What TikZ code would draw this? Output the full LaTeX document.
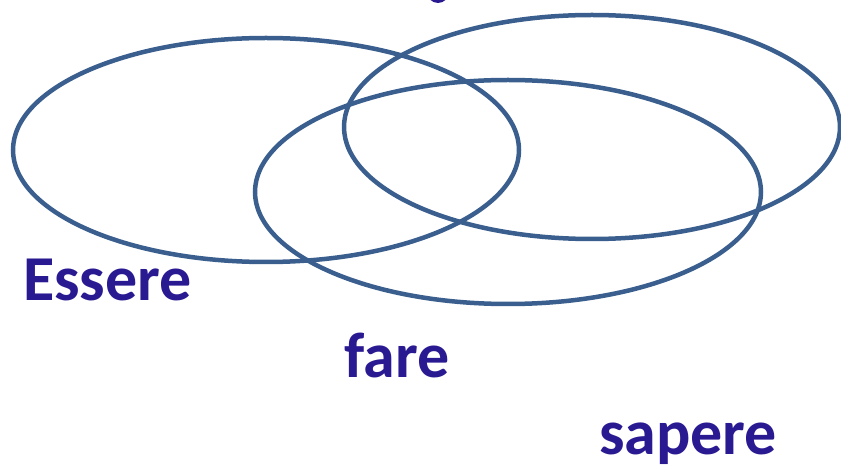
\documentclass[tikz,border=0pt]{standalone}
\usepackage{fontspec}
\setmainfont{Carlito}
\definecolor{ringblue}{HTML}{3A5F8E}
\definecolor{labelblue}{HTML}{2A1A91}
\begin{document}
\begin{tikzpicture}[x=1pt,y=1pt,
  ring/.style={draw=ringblue,line width=4.5pt},
  lbl/.style={text=labelblue,font=\fontsize{64}{64}\selectfont\bfseries,inner sep=0pt,anchor=base west}]
\useasboundingbox (0,0) rectangle (841,464);
\clip (0,0) rectangle (841,464);
\draw[ring] (266,314) ellipse [x radius=253, y radius=112];
\draw[ring] (592,337) ellipse [x radius=248, y radius=112];
\draw[ring] (508,272) ellipse [x radius=253, y radius=112];
\fill[labelblue] (438,472) ellipse [x radius=11, y radius=11];
\node[lbl] (essere) at (23,164) {Essere};
\node[lbl] (fare) at (344,87) {fare};
\node[lbl] (sapere) at (599,10) {sapere};
\end{tikzpicture}
\end{document}
